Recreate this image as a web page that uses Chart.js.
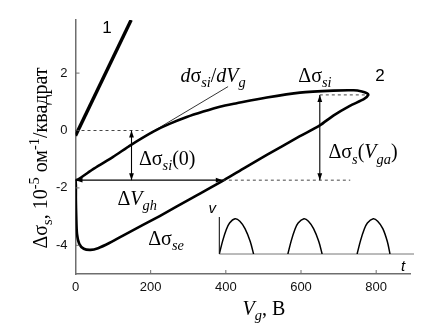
<!DOCTYPE html>
<html><head><meta charset="utf-8">
<script src="https://cdn.jsdelivr.net/npm/chart.js@4/dist/chart.umd.min.js"></script>
<style>
html,body{margin:0;padding:0;background:#fff;}
#wrap{position:relative;width:445px;height:328px;}
#main{position:absolute;left:0;top:0;}
#inset{position:absolute;left:200px;top:200px;}
</style></head>
<body>
<div id="wrap">
<canvas id="main" width="445" height="328"></canvas>
<canvas id="inset" width="220" height="75"></canvas>
</div>
<script>
// ---- data (Vg in V, Δσs in 1e-5 Ohm^-1/sq) ----
const xTicks = [0, 200, 400, 600, 800];
const yTicks = [-4, -2, 0, 2];
// curve 1
const curve1V = [0, 148];
const curve1S = [-0.18, 3.85];
// curve 2 (hysteresis loop): upper branch then lower branch
const loopV = [0, 7, 50, 100, 148, 207, 250, 296, 340, 384, 429, 509, 597, 686, 740, 762, 775, 779,
               768, 730, 686, 650, 597, 509, 450, 395, 313, 224, 135, 90, 60, 40, 22, 10, 4, 2, 1, 1, 0];
const loopS = [-1.73, -1.70, -1.32, -0.92, -0.50, -0.04, 0.23, 0.47, 0.66, 0.83, 0.95, 1.15, 1.32, 1.39, 1.40, 1.36, 1.30, 1.24,
               1.10, 0.86, 0.52, 0.18, -0.20, -0.85, -1.30, -1.73, -2.33, -2.98, -3.60, -3.92, -4.10, -4.16, -4.12, -3.95, -3.6, -3.0, -2.4, -1.9, -1.73];
// tangent dσsi/dVg
const tangentV = [136, 406];
const tangentS = [-0.58, 1.53];
// annotation arrows and dashed guides
const arrowFrom = [[149, 0], [0, -1.73], [650, 1.24]];
const arrowTo   = [[149, -1.73], [392, -1.73], [650, -1.73]];
const dashFrom  = [[0, 0], [392, -1.73], [650, 1.24]];
const dashTo    = [[181, 0], [731, -1.73], [776, 1.24]];
// text labels: [x, y(baseline), parts]
const labels = [
  [366, 1.70, [['d','i'],['σ','n'],['si','si'],['/','n'],['d','i'],['V','i'],['g','si']]],
  [637, 1.70, [['Δσ','n'],['si','si']]],
  [244, -1.20, [['Δσ','n'],['si','si'],['(0)','n']]],
  [765, -0.97, [['Δσ','n'],['s','si'],['(','n'],['V','i'],['ga','si'],[')','n']]],
  [164, -2.60, [['Δ','n'],['V','i'],['gh','si']]],
  [241, -3.99, [['Δσ','n'],['se','si']]]
];
const curveNums = [[84, 3.39, '1'], [810, 1.72, '2']];
// inset: rectified voltage v(t)
const insetT = [0, 0.1, 0.2, 0.3, 0.46, 0.6, 0.75, 0.9, 1.0, 1.5,
                2.0, 2.1, 2.2, 2.3, 2.47, 2.6, 2.75, 2.9, 3.0, 3.5,
                4.02, 4.12, 4.22, 4.32, 4.49, 4.62, 4.77, 4.9, 4.98];
const insetV = [0, 0.38, 0.68, 0.88, 1.0, 0.93, 0.72, 0.36, 0, null,
                0, 0.38, 0.68, 0.88, 1.0, 0.93, 0.72, 0.36, 0, null,
                0, 0.38, 0.68, 0.88, 1.0, 0.93, 0.72, 0.36, 0];

const SERIF = '"Liberation Serif","Times New Roman",serif';
const SANS = '"Liberation Sans",Arial,sans-serif';
const AXIS = '#6e6e6e';

function pts(xs, ys){ return xs.map((x,i)=>({x:x, y:ys[i]})); }

function drawRich(ctx, parts, x, y, size, align){
  const items = parts.map(([t,k])=>{
    const sub = k[0]==='s', sup = k[0]==='p';
    const sz = (sub||sup) ? size*0.72 : size;
    const italic = k[k.length-1]==='i';
    const f = (italic?'italic ':'') + sz.toFixed(1) + 'px ' + SERIF;
    ctx.font = f;
    return {t:t, f:f, w:ctx.measureText(t).width, dy: sub ? size*0.26 : (sup ? -size*0.4 : 0)};
  });
  const total = items.reduce((a,b)=>a+b.w,0);
  let cx = align==='center' ? x-total/2 : x;
  ctx.textAlign='left'; ctx.textBaseline='alphabetic';
  for (const it of items){ ctx.font=it.f; ctx.fillText(it.t, cx, y+it.dy); cx+=it.w; }
}

function arrowHead(ctx, x0, y0, x1, y1){
  const a = Math.atan2(y1-y0, x1-x0), L=7, W=2.4;
  ctx.beginPath();
  ctx.moveTo(x1, y1);
  ctx.lineTo(x1-L*Math.cos(a)+W*Math.sin(a), y1-L*Math.sin(a)-W*Math.cos(a));
  ctx.lineTo(x1-L*Math.cos(a)-W*Math.sin(a), y1-L*Math.sin(a)+W*Math.cos(a));
  ctx.closePath(); ctx.fill();
}

const annot = {
  id:'annot',
  afterDatasetsDraw(chart){
    const ctx = chart.ctx, xs = chart.scales.x, ys = chart.scales.y, ca = chart.chartArea;
    const X = v=>xs.getPixelForValue(v), Y = v=>ys.getPixelForValue(v);
    ctx.save();
    // inward ticks
    ctx.strokeStyle = AXIS; ctx.lineWidth = 1;
    xTicks.forEach(v=>{ if(v===0) return; ctx.beginPath(); ctx.moveTo(X(v), ca.bottom); ctx.lineTo(X(v), ca.bottom-4); ctx.stroke(); });
    yTicks.forEach(v=>{ ctx.beginPath(); ctx.moveTo(ca.left, Y(v)); ctx.lineTo(ca.left+4, Y(v)); ctx.stroke(); });
    // dashed guides
    ctx.strokeStyle = '#333'; ctx.lineWidth = 0.9; ctx.setLineDash([3,3]);
    dashFrom.forEach((p,i)=>{ ctx.beginPath(); ctx.moveTo(X(p[0]),Y(p[1])); ctx.lineTo(X(dashTo[i][0]),Y(dashTo[i][1])); ctx.stroke(); });
    ctx.setLineDash([]);
    // double arrows
    ctx.strokeStyle = '#000'; ctx.fillStyle = '#000'; ctx.lineWidth = 1.1;
    arrowFrom.forEach((p,i)=>{
      const x0=X(p[0]), y0=Y(p[1]), x1=X(arrowTo[i][0]), y1=Y(arrowTo[i][1]);
      ctx.beginPath(); ctx.moveTo(x0,y0); ctx.lineTo(x1,y1); ctx.stroke();
      arrowHead(ctx, x0,y0,x1,y1); arrowHead(ctx, x1,y1,x0,y0);
    });
    // labels
    labels.forEach(l=>drawRich(ctx, l[2], X(l[0]), Y(l[1]), 20, 'center'));
    ctx.font = '17px ' + SANS; ctx.textAlign='center'; ctx.textBaseline='alphabetic';
    curveNums.forEach(c=>ctx.fillText(c[2], X(c[0]), Y(c[1])));
    // axis titles
    drawRich(ctx, [['V','i'],['g','si'],[', В','n']], 264, 315, 20, 'center');
    ctx.translate(47, 158); ctx.rotate(-Math.PI/2);
    drawRich(ctx, [['Δσ','n'],['s','s'],[', 10','n'],['-5','p'],[' ом','n'],['-1','p'],['/квадрат','n']], 0, 0, 20, 'center');
    ctx.restore();
  }
};

new Chart(document.getElementById('main'), {
  type:'scatter',
  data:{ datasets:[
    {data:pts(loopV, loopS), showLine:true, borderColor:'#000', borderWidth:2.6, pointRadius:0, tension:0.25},
    {data:pts(curve1V, curve1S), showLine:true, borderColor:'#000', borderWidth:3.4, pointRadius:0},
    {data:pts(curve1V, curve1S), showLine:true, borderColor:'#fff', borderWidth:0.7, pointRadius:0},
    {data:pts(tangentV, tangentS), showLine:true, borderColor:'#000', borderWidth:0.8, pointRadius:0}
  ]},
  options:{
    responsive:false, animation:false, events:[],
    layout:{padding:{left:0, top:20, right:35, bottom:0}},
    plugins:{legend:{display:false}, tooltip:{enabled:false}},
    scales:{
      x:{type:'linear', min:0, max:890,
         afterFit(s){ s.height = 54; },
         afterBuildTicks(s){ s.ticks = xTicks.map(v=>({value:v})); },
         grid:{drawOnChartArea:false, drawTicks:false},
         border:{color:AXIS, width:1.5},
         ticks:{padding:6, color:'#111', font:{family:SANS, size:13}, maxRotation:0}},
      y:{type:'linear', min:-5, max:3.85,
         afterFit(s){ s.width = 75.5; },
         afterBuildTicks(s){ s.ticks = yTicks.map(v=>({value:v})); },
         grid:{drawOnChartArea:false, drawTicks:false},
         border:{color:AXIS, width:1.5},
         ticks:{padding:8, color:'#111', font:{family:SANS, size:13}}}
    }
  },
  plugins:[annot]
});

const insetAxes = {
  id:'insetAxes',
  beforeDatasetsDraw(chart){
    const ctx = chart.ctx, ca = chart.chartArea;
    ctx.save();
    ctx.strokeStyle = '#000'; ctx.lineWidth = 1;
    ctx.beginPath(); ctx.moveTo(ca.left, ca.top); ctx.lineTo(ca.left, ca.bottom); ctx.stroke();
    ctx.strokeStyle = '#777';
    ctx.beginPath(); ctx.moveTo(ca.left, ca.bottom); ctx.lineTo(ca.right, ca.bottom); ctx.stroke();
    ctx.fillStyle = '#000'; ctx.font = 'italic 15px ' + SANS; ctx.textAlign='center'; ctx.textBaseline='alphabetic';
    ctx.fillText('v', ca.left-7, ca.top-4);
    ctx.fillText('t', ca.right-11, ca.bottom+17);
    ctx.restore();
  }
};

new Chart(document.getElementById('inset'), {
  type:'scatter',
  data:{ datasets:[
    {data:pts(insetT, insetV), showLine:true, spanGaps:false, borderColor:'#000', borderWidth:1.5, pointRadius:0, tension:0.35}
  ]},
  options:{
    responsive:false, animation:false, events:[],
    layout:{padding:{left:19.3, top:17, right:6, bottom:21}},
    plugins:{legend:{display:false}, tooltip:{enabled:false}},
    scales:{
      x:{type:'linear', min:0, max:5.68, display:false},
      y:{type:'linear', min:0, max:1.05, display:false}
    }
  },
  plugins:[insetAxes]
});
</script>
</body></html>
